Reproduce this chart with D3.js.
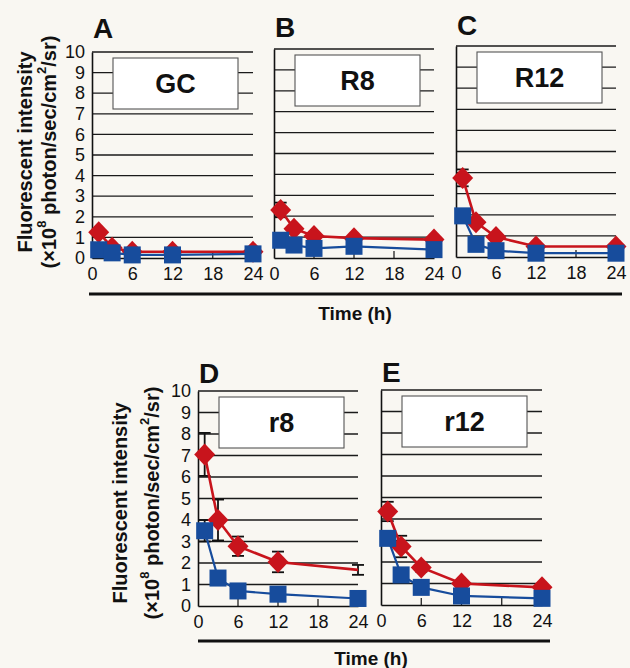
<!DOCTYPE html>
<html>
<head>
<meta charset="utf-8">
<script src="https://cdn.jsdelivr.net/npm/d3@7"></script>
<style>
  html, body { margin: 0; padding: 0; background: #f9f7f2; }
  svg { display: block; }
  text { font-family: "Liberation Sans", Arial, sans-serif; fill: #111; }
</style>
</head>
<body>
<svg id="chart" width="630" height="668"></svg>
<script>
// ---------------- data ----------------
const times = [1, 3, 6, 12, 24];
const xTicks = [0, 6, 12, 18, 24];
const yTicks = [0, 1, 2, 3, 4, 5, 6, 7, 8, 9, 10];
const panelLetters = ["A", "B", "C", "D", "E"];
const groupNames = ["GC", "R8", "R12", "r8", "r12"];

const redGC   = [1.25, 0.5, 0.3, 0.3, 0.3];
const blueGC  = [0.4, 0.25, 0.15, 0.15, 0.2];
const redR8   = [2.3, 1.4, 1.05, 0.95, 0.88];
const blueR8  = [0.85, 0.62, 0.46, 0.56, 0.4];
const redR12  = [3.75, 1.65, 0.95, 0.5, 0.5];
const blueR12 = [1.95, 0.6, 0.3, 0.18, 0.18];
const redr8   = [7.05, 4.0, 2.78, 2.05, 1.68];
const bluer8  = [3.5, 1.3, 0.7, 0.55, 0.35];
const redr12  = [4.35, 2.72, 1.75, 1.0, 0.82];
const bluer12 = [3.1, 1.4, 0.82, 0.42, 0.31];

const redErrGC   = [0.1, 0.05, 0.05, 0.05, 0.05];
const blueErrGC  = [0.05, 0.05, 0.05, 0.05, 0.05];
const redErrR8   = [0.35, 0.1, 0.1, 0.1, 0.1];
const blueErrR8  = [0.1, 0.1, 0.05, 0.05, 0.05];
const redErrR12  = [0.4, 0.15, 0.1, 0.05, 0.05];
const blueErrR12 = [0.2, 0.1, 0.05, 0.05, 0.05];
const redErrr8   = [1.0, 0.95, 0.45, 0.48, 0.23];
const blueErrr8  = [0.5, 0.2, 0.1, 0.1, 0.05];
const redErrr12  = [0.45, 0.5, 0.2, 0.1, 0.1];
const blueErrr12 = [0.2, 0.15, 0.1, 0.05, 0.05];

// red marker at 24 h in panel D is not drawn in the original
const redMarkerShownr8 = [true, true, true, true, false];

const seriesByPanel = [
  {red: redGC,  blue: blueGC,  redErr: redErrGC,  blueErr: blueErrGC},
  {red: redR8,  blue: blueR8,  redErr: redErrR8,  blueErr: blueErrR8},
  {red: redR12, blue: blueR12, redErr: redErrR12, blueErr: blueErrR12},
  {red: redr8,  blue: bluer8,  redErr: redErrr8,  blueErr: blueErrr8, redShown: redMarkerShownr8},
  {red: redr12, blue: bluer12, redErr: redErrr12, blueErr: blueErrr12}
];

// ---------------- layout ----------------
const layout = [
  {x0: 92,  x1: 253, top: 52,  bottom: 258, yLabels: true,  letterY: 38},
  {x0: 274, x1: 434, top: 49,  bottom: 258, yLabels: false, letterY: 37},
  {x0: 456, x1: 616, top: 46,  bottom: 257, yLabels: false, letterY: 35},
  {x0: 198, x1: 358, top: 391, bottom: 606, yLabels: true,  letterY: 383},
  {x0: 381, x1: 542, top: 390, bottom: 605, yLabels: false, letterY: 382}
];

const RED = "#c8141c";
const BLUE = "#174c9c";

const svg = d3.select("#chart");

function diamondPath(cx, cy) {
  const w = 10.5, h = 11;
  return `M${cx},${cy - h}L${cx + w},${cy}L${cx},${cy + h}L${cx - w},${cy}Z`;
}

layout.forEach((L, i) => {
  const S = seriesByPanel[i];
  const x = d3.scaleLinear().domain([0, 24]).range([L.x0, L.x1]);
  const y = d3.scaleLinear().domain([0, 10]).range([L.bottom, L.top]);
  const g = svg.append("g");

  // gridlines
  g.selectAll("line.grid").data(yTicks.filter(d => d > 0)).join("line")
    .attr("x1", x(0)).attr("x2", x(24))
    .attr("y1", d => y(d)).attr("y2", d => y(d))
    .attr("stroke", "#1a1a1a").attr("stroke-width", 1.3);

  // legend box (covers gridlines)
  g.append("rect")
    .attr("x", L.x0 + 21).attr("y", L.top + 6)
    .attr("width", 125).attr("height", 51)
    .attr("fill", "#ffffff").attr("stroke", "#555").attr("stroke-width", 1.1);
  g.append("text")
    .attr("x", L.x0 + 21 + 62.5).attr("y", L.top + 6 + 35)
    .attr("text-anchor", "middle")
    .attr("font-size", 27).attr("font-weight", "bold")
    .text(groupNames[i]);

  // x axis
  const xAxis = d3.axisBottom(x).tickValues(xTicks).tickSize(0).tickPadding(9);
  const xa = g.append("g").attr("transform", `translate(0,${L.bottom})`).call(xAxis);
  xa.select(".domain").attr("stroke", "#111").attr("stroke-width", 1.6);
  xa.selectAll("text").attr("font-size", 18).attr("fill", "#111")
    .attr("font-family", "Liberation Sans, Arial, sans-serif");
  // inward ticks
  g.selectAll("line.xt").data(xTicks.filter(d => d > 0 && d < 24)).join("line")
    .attr("x1", d => x(d)).attr("x2", d => x(d))
    .attr("y1", L.bottom).attr("y2", L.bottom - 7)
    .attr("stroke", "#111").attr("stroke-width", 1.2);

  // y axis
  const yAxis = d3.axisLeft(y).tickValues(yTicks).tickSize(0).tickPadding(7);
  const ya = g.append("g").attr("transform", `translate(${L.x0},0)`).call(yAxis);
  ya.select(".domain").attr("stroke", "#111").attr("stroke-width", 1.6);
  if (L.yLabels) {
    ya.selectAll("text").attr("font-size", 18).attr("fill", "#111")
      .attr("font-family", "Liberation Sans, Arial, sans-serif");
  } else {
    ya.selectAll("text").remove();
  }

  const pts = times.map((t, k) => ({
    t, r: S.red[k], b: S.blue[k], re: S.redErr[k], be: S.blueErr[k],
    rs: S.redShown ? S.redShown[k] : true
  }));

  // error bars
  const eb = g.append("g").attr("stroke", "#111").attr("stroke-width", 1.8);
  pts.forEach(p => {
    [[p.r, p.re], [p.b, p.be]].forEach(([v, e]) => {
      eb.append("line").attr("x1", x(p.t)).attr("x2", x(p.t))
        .attr("y1", y(v - e)).attr("y2", y(v + e));
      [v - e, v + e].forEach(c => {
        eb.append("line").attr("x1", x(p.t) - 6).attr("x2", x(p.t) + 6)
          .attr("y1", y(c)).attr("y2", y(c));
      });
    });
  });

  // red line and markers
  g.append("path").datum(pts)
    .attr("d", d3.line().x(d => x(d.t)).y(d => y(d.r)))
    .attr("fill", "none").attr("stroke", RED).attr("stroke-width", 2.6);
  g.selectAll("path.dia").data(pts.filter(p => p.rs)).join("path")
    .attr("d", d => diamondPath(x(d.t), y(d.r)))
    .attr("fill", RED);

  // blue line and markers
  g.append("path").datum(pts)
    .attr("d", d3.line().x(d => x(d.t)).y(d => y(d.b)))
    .attr("fill", "none").attr("stroke", BLUE).attr("stroke-width", 2.2);
  g.selectAll("rect.sq").data(pts).join("rect")
    .attr("x", d => x(d.t) - 8.5).attr("y", d => y(d.b) - 8.5)
    .attr("width", 17).attr("height", 17)
    .attr("fill", BLUE);

  // panel letter
  svg.append("text")
    .attr("x", L.x0 + 1).attr("y", L.letterY)
    .attr("font-size", 28).attr("font-weight", "bold")
    .text(panelLetters[i]);
});

// y-axis titles
function yTitle(cx1, cx2, cy) {
  svg.append("text")
    .attr("transform", `translate(${cx1},${cy}) rotate(-90)`)
    .attr("text-anchor", "middle").attr("dominant-baseline", "central")
    .attr("font-size", 20).attr("font-weight", "bold")
    .text("Fluorescent intensity");
  const t = svg.append("text")
    .attr("transform", `translate(${cx2},${cy}) rotate(-90)`)
    .attr("text-anchor", "middle").attr("dominant-baseline", "central")
    .attr("font-size", 20).attr("font-weight", "bold");
  t.append("tspan").text("(×10");
  t.append("tspan").attr("dy", -8).attr("font-size", 13).text("8");
  t.append("tspan").attr("dy", 8).text(" photon/sec/cm");
  t.append("tspan").attr("dy", -8).attr("font-size", 13).text("2");
  t.append("tspan").attr("dy", 8).text("/sr)");
}
yTitle(25, 49, 152);
yTitle(120, 152, 503);

// time bars and labels
svg.append("line").attr("x1", 89).attr("x2", 622).attr("y1", 294).attr("y2", 294)
  .attr("stroke", "#111").attr("stroke-width", 3);
svg.append("text").attr("x", 355).attr("y", 320).attr("text-anchor", "middle")
  .attr("font-size", 19).attr("font-weight", "bold").text("Time (h)");
svg.append("line").attr("x1", 198).attr("x2", 550).attr("y1", 641).attr("y2", 641)
  .attr("stroke", "#111").attr("stroke-width", 3);
svg.append("text").attr("x", 371).attr("y", 665).attr("text-anchor", "middle")
  .attr("font-size", 19).attr("font-weight", "bold").text("Time (h)");
</script>
</body>
</html>
